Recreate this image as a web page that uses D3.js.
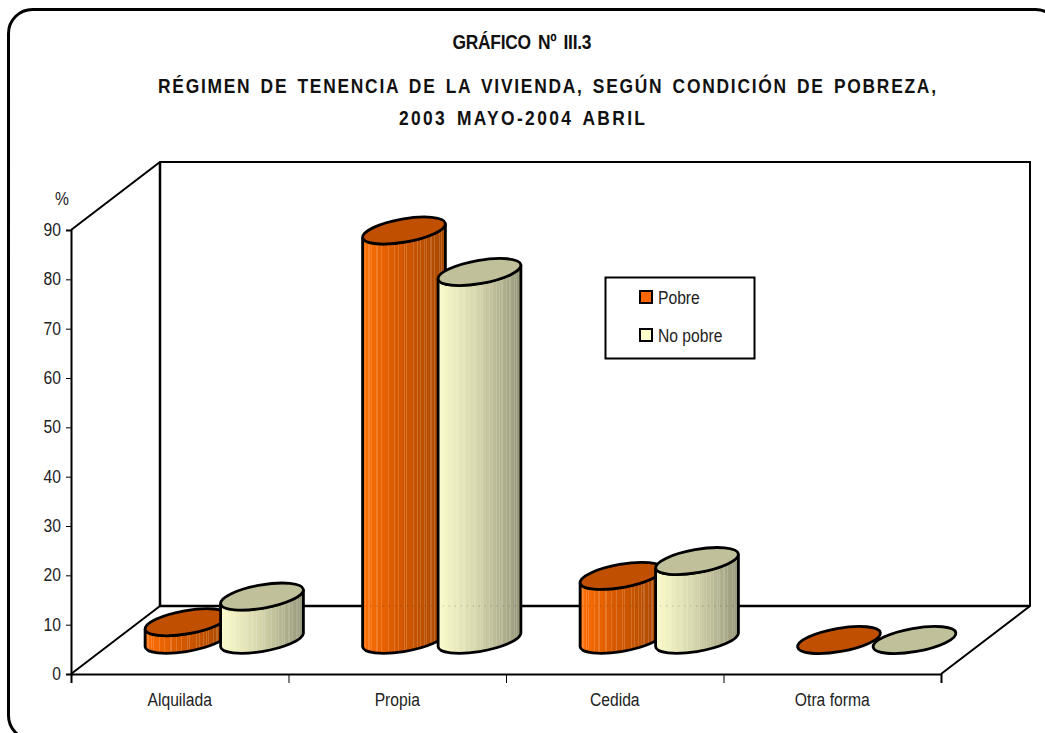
<!DOCTYPE html>
<html>
<head>
<meta charset="utf-8">
<script src="https://cdnjs.cloudflare.com/ajax/libs/d3/7.8.5/d3.min.js"></script>
<style>
  html, body { margin: 0; padding: 0; background: #fff; overflow: hidden; }
  text { font-family: "Liberation Sans", Arial, sans-serif; fill: #222; }
  .title { font-weight: bold; fill: #111; }
</style>
</head>
<body>
<div class="chart"></div>
<script>
var categories = ["Alquilada", "Propia", "Cedida", "Otra forma"];
var seriesNames = ["Pobre", "No pobre"];
var pobre = [3.6, 83, 13, 0];
var noPobre = [8.8, 74.6, 16, 0];
var yTicks = [0, 10, 20, 30, 40, 50, 60, 70, 80, 90];
var titleLines = ["GRÁFICO Nº III.3", "RÉGIMEN DE TENENCIA DE LA VIVIENDA, SEGÚN CONDICIÓN DE POBREZA,", "2003 MAYO-2004 ABRIL"];

var width = 1045;
var height = 733;

// plot box, front face and the depth offset to the back wall
var left = 71, right = 941, bottom = 674, top_ = 230;
var depthX = 89, depthY = -68;
var narrow = .87; // original labels are in a narrow face

var svg = d3.select(".chart").append("svg")
	.attr("width", width)
	.attr("height", height)
	.style("display", "block");

var defs = svg.append("defs");

// thin light stripes for the cylinder sides
var stripes = [2, 5, 7, 12, 16, 22, 27, 31, 36, 38, 44, 47, 50, 53, 55, 59, 62, 66, 68];

function gradient(id, from, mid, to, light) {
	var g = defs.append("linearGradient").attr("id", id);
	var col = d3.scaleLinear().domain([0, .45, 1]).range([from, mid, to]);
	var n = 72;
	d3.range(n).forEach(function(i) {
		var a = i / n, b = (i + 1) / n;
		var j = stripes.indexOf(i) >= 0 ? light : 0;
		var c = d3.interpolateRgb(col((a + b) / 2), "#fff")(j);
		g.append("stop").attr("offset", a).attr("stop-color", c);
		g.append("stop").attr("offset", b).attr("stop-color", c);
	});
}
gradient("sidePobre", "#ff6e04", "#d45800", "#a84800", .16);
gradient("sideNoPobre", "#fbfbcb", "#d8d8ae", "#96967a", .14);

var seriesStyle = [
	{ side: "url(#sidePobre)", cap: "#c05000", key: "#ff6600" },
	{ side: "url(#sideNoPobre)", cap: "#c0c09a", key: "#ffffcc" }
];

var xScale = d3.scaleBand().domain(categories).range([left, right]);
var xInner = d3.scalePoint().domain(seriesNames).range([-37.75, 37.75]);
var yScale = d3.scaleLinear().domain([0, 90]).range([bottom, top_]);

// draws text squeezed horizontally around its anchor
function narrowText(parent, str, x, y, size) {
	return parent.append("text")
		.attr("transform", "translate(" + x + "," + y + ") scale(" + narrow + ",1)")
		.attr("font-size", size)
		.text(str);
}

// outer frame
svg.append("rect")
	.attr("x", 8.5).attr("y", 9.5)
	.attr("width", 1051).attr("height", 730)
	.attr("rx", 24)
	.attr("fill", "none").attr("stroke", "#000").attr("stroke-width", 3);

// titles, stretched to the measured width of each line
var titleY = [49, 93, 125];
var titleX = [522, 547, 522];
var titleW = [139, 778, 246];
titleLines.forEach(function(t, i) {
	narrowText(svg, t, titleX[i], titleY[i], "20px")
		.attr("class", "title")
		.attr("text-anchor", "middle")
		.attr("textLength", titleW[i] / narrow)
		.attr("lengthAdjust", "spacing")
		.style("word-spacing", "3px");
});

// walls and floor
var wall = d3.path();
wall.moveTo(left, yScale(90));
wall.lineTo(left + depthX, yScale(90) + depthY);
wall.lineTo(right + depthX, yScale(90) + depthY);
wall.lineTo(right + depthX, bottom + depthY);
wall.lineTo(right, bottom);
svg.append("path").attr("d", wall.toString()).attr("fill", "none").attr("stroke", "#000").attr("stroke-width", 2);

svg.append("line")
	.attr("x1", left + depthX).attr("x2", left + depthX)
	.attr("y1", yScale(90) + depthY).attr("y2", bottom + depthY)
	.attr("stroke", "#000").attr("stroke-width", 2.5);
svg.append("line")
	.attr("x1", left).attr("y1", bottom)
	.attr("x2", left + depthX).attr("y2", bottom + depthY)
	.attr("stroke", "#000").attr("stroke-width", 2);
svg.append("line")
	.attr("x1", left + depthX).attr("x2", right + depthX)
	.attr("y1", bottom + depthY).attr("y2", bottom + depthY)
	.attr("stroke", "#000").attr("stroke-width", 2.5);

// axes
var yAxis = d3.axisLeft(yScale).tickValues(yTicks).tickSize(5).tickFormat("");
var yG = svg.append("g").attr("transform", "translate(" + left + ",0)").call(yAxis);
yG.select(".domain").attr("stroke-width", 2);
yTicks.forEach(function(t) {
	narrowText(svg, t, 61, yScale(t) + 6, "18px").attr("text-anchor", "end");
});

var tickX = d3.range(categories.length + 1).map(function(i) { return left + i * xScale.step(); });
var xAxis = d3.axisBottom(d3.scaleLinear().domain([left, right]).range([left, right]))
	.tickValues(tickX).tickSize(9).tickFormat("");
var xG = svg.append("g").attr("transform", "translate(0," + bottom + ")").call(xAxis);
xG.select(".domain").attr("stroke-width", 2);

categories.forEach(function(c) {
	narrowText(svg, c, xScale(c) + xScale.bandwidth() / 2, 706, "18px").attr("text-anchor", "middle");
});

narrowText(svg, "%", 62, 205, "18px").attr("text-anchor", "middle");

// cylinders
var rx = 42, ry = 11.6, tilt = -10;
var halfW = 41.4, tanY = 6.7;

function cylinder(g, cx, yBase, yTop, style) {
	if (yBase - yTop > 1) {
		var d = "M" + (cx - halfW) + "," + (yTop + tanY) +
			"L" + (cx - halfW) + "," + (yBase + tanY) +
			"A" + rx + "," + ry + " " + tilt + " 0 0 " + (cx + halfW) + "," + (yBase - tanY) +
			"L" + (cx + halfW) + "," + (yTop - tanY) +
			"A" + rx + "," + ry + " " + tilt + " 0 1 " + (cx - halfW) + "," + (yTop + tanY) + "Z";
		g.append("path").attr("d", d).attr("fill", style.side).attr("stroke", "#000").attr("stroke-width", 2.8);
	}
	g.append("ellipse")
		.attr("rx", rx).attr("ry", ry)
		.attr("transform", "translate(" + cx + "," + yTop + ") rotate(" + tilt + ")")
		.attr("fill", style.cap).attr("stroke", "#000").attr("stroke-width", 2.8);
}

// bars stand half way into the floor
var bars = svg.append("g");
categories.forEach(function(c, i) {
	[pobre, noPobre].forEach(function(values, s) {
		var cx = xScale(c) + xScale.bandwidth() / 2 + depthX / 2 + xInner(seriesNames[s]);
		cylinder(bars, cx, yScale(0) + depthY / 2, yScale(values[i]) + depthY / 2, seriesStyle[s]);
	});
});

// faint trace of the back wall showing through the tall bars
categories.slice(1, 3).forEach(function(c) {
	var cx = xScale(c) + xScale.bandwidth() / 2 + depthX / 2;
	svg.append("line")
		.attr("x1", cx - 77).attr("x2", cx + 77)
		.attr("y1", bottom + depthY).attr("y2", bottom + depthY)
		.attr("stroke", "#000").attr("stroke-opacity", .3).attr("stroke-dasharray", "1 5");
});

// legend
var legend = svg.append("g").attr("transform", "translate(605,277)");
legend.append("rect").attr("x", .5).attr("y", .5).attr("width", 149).attr("height", 81)
	.attr("fill", "#fff").attr("stroke", "#000").attr("stroke-width", 2);
seriesNames.forEach(function(name, i) {
	var row = legend.append("g").attr("transform", "translate(0," + (21 + i * 38) + ")");
	row.append("rect").attr("x", 35).attr("y", -7).attr("width", 12).attr("height", 12)
		.attr("fill", seriesStyle[i].key).attr("stroke", "#000").attr("stroke-width", 2);
	narrowText(row, name, 53, 6, "18px");
});
</script>
</body>
</html>
